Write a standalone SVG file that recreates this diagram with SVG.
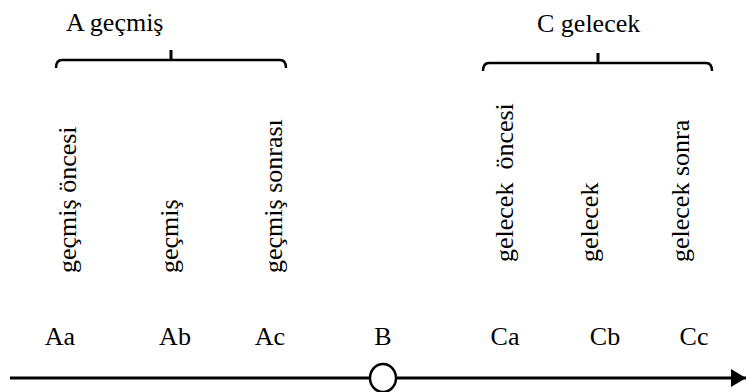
<svg xmlns="http://www.w3.org/2000/svg" width="748" height="392" viewBox="0 0 748 392">
<defs>
<style>
text{font-family:"Liberation Serif","Times New Roman",serif;font-size:26px;fill:#000;white-space:pre}
.brace{fill:none;stroke:#000;stroke-width:2.5}
.tick{fill:none;stroke:#000;stroke-width:3}
.axis{fill:none;stroke:#000;stroke-width:3}
.mid{text-anchor:middle}
</style>
<marker id="arr" markerWidth="5" markerHeight="6" refX="5" refY="3" orient="auto" markerUnits="strokeWidth">
<path d="M0,0 L5,3 L0,6 Z" fill="#000"/>
</marker>
</defs>
<rect width="748" height="392" fill="#fff"/>
<g id="connectors">
<line class="axis" x1="10" y1="378" x2="746" y2="378" marker-end="url(#arr)"/>
</g>
<g id="groupA">
<text x="66" y="31">A geçmiş</text>
<path class="brace" d="M56,68 Q56,60 62,60 L280,60 Q286,60 286,68"/>
<line class="tick" x1="171" y1="50" x2="171" y2="60"/>
</g>
<g id="groupC">
<text x="537" y="32">C gelecek</text>
<path class="brace" d="M483,71 Q483,63 489,63 L706,63 Q712,63 712,71"/>
<line class="tick" x1="598" y1="53" x2="598" y2="63"/>
</g>
<g id="Aa"><text transform="translate(76,273) rotate(-90)">geçmiş öncesi</text><text class="mid" x="60" y="345">Aa</text></g>
<g id="Ab"><text transform="translate(178,273) rotate(-90)">geçmiş</text><text class="mid" x="175" y="345">Ab</text></g>
<g id="Ac"><text transform="translate(282,273) rotate(-90)">geçmiş sonrası</text><text class="mid" x="270" y="345">Ac</text></g>
<g id="B"><text class="mid" x="383" y="345">B</text><ellipse cx="383" cy="378" rx="13" ry="14" fill="#fff" stroke="#000" stroke-width="2.5"/></g>
<g id="Ca"><text transform="translate(513,262) rotate(-90)">gelecek  öncesi</text><text class="mid" x="505" y="345">Ca</text></g>
<g id="Cb"><text transform="translate(598,262) rotate(-90)">gelecek</text><text class="mid" x="605" y="345">Cb</text></g>
<g id="Cc"><text transform="translate(689,262) rotate(-90)">gelecek sonra</text><text class="mid" x="694" y="345">Cc</text></g>
</svg>
